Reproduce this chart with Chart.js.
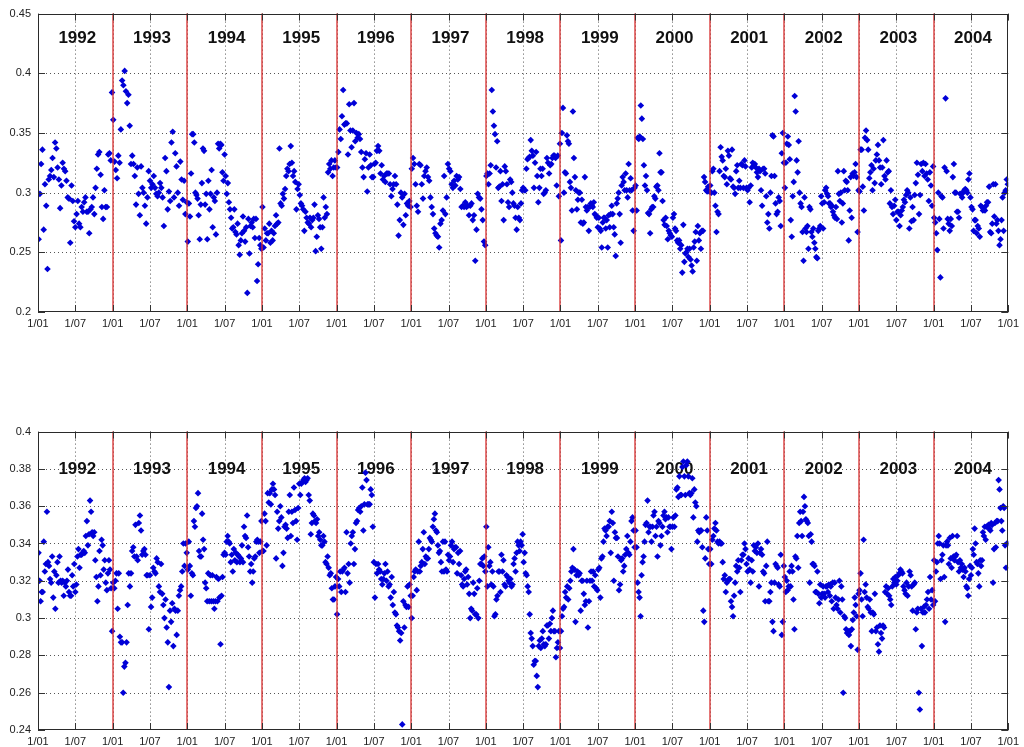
<!DOCTYPE html>
<html>
<head>
<meta charset="utf-8">
<script src="https://cdn.jsdelivr.net/npm/chart.js@4/dist/chart.umd.min.js"></script>
<style>
  html, body { margin: 0; padding: 0; background: #fff; overflow: hidden; }
  #wrap { position: relative; width: 1024px; height: 747px; }
  .panel { position: absolute; left: 0; width: 1024px; }
  #upperBox { top: 0; height: 340px; }
  #lowerBox { top: 418px; height: 329px; }
</style>
</head>
<body>
<div id="wrap">
  <div class="panel" id="upperBox"><canvas id="upper" width="1024" height="340"></canvas></div>
  <div class="panel" id="lowerBox"><canvas id="lower" width="1024" height="329"></canvas></div>
</div>
<script>
// ---- categories and tick labels ----
const yearLabels = ['1992','1993','1994','1995','1996','1997','1998','1999','2000','2001','2002','2003','2004'];
const xTickLabels = ['1/01', '1/07'];
const upperTicks = [0.2, 0.25, 0.3, 0.35, 0.4, 0.45];
const upperTickText = ['0.2', '0.25', '0.3', '0.35', '0.4', '0.45'];
const lowerTicks = [0.24, 0.26, 0.28, 0.3, 0.32, 0.34, 0.36, 0.38, 0.4];
const lowerTickText = ['0.24', '0.26', '0.28', '0.3', '0.32', '0.34', '0.36', '0.38', '0.4'];

// ---- upper panel: observations through each year, in time order ----
const upper1992 = [0.261, 0.299, 0.324, 0.336, 0.269, 0.307, 0.289, 0.236, 0.311, 0.314, 0.319, 0.329, 0.313, 0.342, 0.337, 0.321, 0.311, 0.287, 0.306, 0.325, 0.320, 0.318, 0.310, 0.296, 0.295, 0.258, 0.306, 0.293, 0.276, 0.271, 0.282, 0.293, 0.274, 0.271, 0.288, 0.284, 0.292, 0.296, 0.284, 0.284, 0.266, 0.286, 0.288, 0.296, 0.282, 0.304, 0.320, 0.332, 0.334, 0.315, 0.288, 0.278, 0.302, 0.288, 0.288, 0.332, 0.333, 0.327, 0.384];
const upper1993 = [0.361, 0.326, 0.319, 0.312, 0.331, 0.325, 0.353, 0.394, 0.390, 0.402, 0.385, 0.375, 0.382, 0.356, 0.324, 0.331, 0.324, 0.314, 0.290, 0.321, 0.299, 0.281, 0.322, 0.304, 0.300, 0.289, 0.274, 0.296, 0.318, 0.310, 0.304, 0.307, 0.314, 0.304, 0.299, 0.297, 0.300, 0.308, 0.304, 0.296, 0.272, 0.329, 0.318, 0.286, 0.301, 0.293, 0.342, 0.351, 0.296, 0.333, 0.322, 0.300, 0.289, 0.326, 0.311, 0.294, 0.310, 0.282, 0.292];
const upper1994 = [0.259, 0.291, 0.280, 0.316, 0.349, 0.349, 0.342, 0.300, 0.298, 0.295, 0.281, 0.261, 0.290, 0.308, 0.337, 0.335, 0.290, 0.299, 0.261, 0.310, 0.286, 0.299, 0.319, 0.271, 0.296, 0.293, 0.265, 0.300, 0.341, 0.337, 0.341, 0.340, 0.317, 0.310, 0.332, 0.314, 0.299, 0.308, 0.292, 0.286, 0.279, 0.270, 0.271, 0.286, 0.267, 0.265, 0.274, 0.256, 0.248, 0.260, 0.266, 0.280, 0.268, 0.259, 0.271, 0.216, 0.278, 0.249, 0.272, 0.275, 0.271, 0.278, 0.262, 0.278, 0.226, 0.240, 0.262, 0.256, 0.253];
const upper1995 = [0.288, 0.254, 0.270, 0.260, 0.266, 0.266, 0.274, 0.258, 0.268, 0.260, 0.266, 0.272, 0.281, 0.274, 0.275, 0.337, 0.291, 0.289, 0.299, 0.295, 0.303, 0.314, 0.320, 0.318, 0.324, 0.339, 0.325, 0.314, 0.318, 0.309, 0.286, 0.303, 0.307, 0.298, 0.291, 0.289, 0.286, 0.268, 0.284, 0.279, 0.275, 0.274, 0.279, 0.271, 0.277, 0.279, 0.290, 0.251, 0.263, 0.281, 0.278, 0.271, 0.253, 0.271, 0.296, 0.279, 0.288, 0.282, 0.317, 0.324, 0.320, 0.327, 0.314, 0.321, 0.327, 0.321];
const upper1996 = [0.321, 0.334, 0.353, 0.345, 0.364, 0.386, 0.357, 0.358, 0.358, 0.332, 0.374, 0.352, 0.338, 0.352, 0.375, 0.343, 0.350, 0.346, 0.349, 0.345, 0.334, 0.321, 0.313, 0.328, 0.333, 0.301, 0.321, 0.332, 0.323, 0.313, 0.313, 0.324, 0.325, 0.335, 0.339, 0.335, 0.316, 0.323, 0.311, 0.314, 0.309, 0.316, 0.316, 0.316, 0.307, 0.297, 0.303, 0.307, 0.314, 0.307, 0.290, 0.264, 0.277, 0.300, 0.296, 0.273, 0.299, 0.281, 0.291, 0.289, 0.293, 0.288];
const upper1997 = [0.320, 0.329, 0.324, 0.307, 0.289, 0.284, 0.324, 0.323, 0.307, 0.295, 0.314, 0.318, 0.321, 0.313, 0.310, 0.296, 0.288, 0.282, 0.270, 0.266, 0.264, 0.263, 0.254, 0.274, 0.277, 0.285, 0.314, 0.282, 0.296, 0.324, 0.320, 0.318, 0.307, 0.304, 0.310, 0.306, 0.314, 0.311, 0.313, 0.303, 0.288, 0.289, 0.288, 0.292, 0.288, 0.289, 0.281, 0.289, 0.291, 0.277, 0.281, 0.243, 0.269, 0.299, 0.296, 0.295, 0.286, 0.277, 0.259, 0.256];
const upper1998 = [0.314, 0.316, 0.307, 0.316, 0.323, 0.386, 0.368, 0.356, 0.349, 0.321, 0.343, 0.304, 0.305, 0.318, 0.293, 0.307, 0.277, 0.322, 0.318, 0.307, 0.292, 0.288, 0.311, 0.309, 0.300, 0.291, 0.289, 0.279, 0.269, 0.288, 0.279, 0.277, 0.291, 0.302, 0.304, 0.302, 0.302, 0.320, 0.328, 0.329, 0.330, 0.344, 0.335, 0.331, 0.304, 0.325, 0.334, 0.314, 0.292, 0.304, 0.320, 0.314, 0.320, 0.299, 0.300, 0.302, 0.329, 0.325, 0.316, 0.323, 0.324, 0.329, 0.331, 0.331, 0.329, 0.306, 0.331, 0.297, 0.341];
const upper1999 = [0.260, 0.350, 0.371, 0.300, 0.317, 0.316, 0.348, 0.343, 0.341, 0.309, 0.304, 0.285, 0.368, 0.329, 0.313, 0.302, 0.286, 0.294, 0.300, 0.300, 0.275, 0.294, 0.274, 0.275, 0.313, 0.288, 0.285, 0.288, 0.268, 0.288, 0.291, 0.289, 0.288, 0.292, 0.282, 0.281, 0.279, 0.271, 0.279, 0.270, 0.268, 0.254, 0.275, 0.279, 0.279, 0.270, 0.277, 0.254, 0.281, 0.271, 0.282, 0.289, 0.282, 0.271, 0.265, 0.247, 0.291, 0.295, 0.300, 0.282, 0.258, 0.306, 0.313, 0.309, 0.302, 0.316, 0.302, 0.296, 0.324, 0.302, 0.312, 0.302, 0.285, 0.268, 0.304];
const upper2000 = [0.306, 0.285, 0.346, 0.345, 0.347, 0.373, 0.362, 0.345, 0.323, 0.306, 0.314, 0.302, 0.283, 0.282, 0.266, 0.286, 0.288, 0.288, 0.297, 0.295, 0.305, 0.306, 0.302, 0.333, 0.317, 0.317, 0.293, 0.277, 0.273, 0.279, 0.272, 0.261, 0.268, 0.266, 0.264, 0.263, 0.279, 0.282, 0.270, 0.268, 0.260, 0.258, 0.260, 0.253, 0.256, 0.233, 0.273, 0.242, 0.249, 0.250, 0.253, 0.246, 0.253, 0.244, 0.239, 0.234, 0.254, 0.259, 0.267, 0.243, 0.272, 0.260, 0.266, 0.253, 0.268, 0.268, 0.313, 0.309, 0.302, 0.301, 0.305, 0.301];
const upper2001 = [0.306, 0.300, 0.318, 0.320, 0.300, 0.289, 0.267, 0.284, 0.282, 0.318, 0.338, 0.330, 0.327, 0.314, 0.313, 0.320, 0.307, 0.335, 0.331, 0.312, 0.311, 0.336, 0.305, 0.304, 0.299, 0.318, 0.323, 0.304, 0.310, 0.304, 0.324, 0.323, 0.304, 0.327, 0.322, 0.304, 0.302, 0.304, 0.292, 0.306, 0.321, 0.325, 0.323, 0.324, 0.321, 0.317, 0.313, 0.320, 0.318, 0.302, 0.289, 0.320, 0.320, 0.316, 0.297, 0.275, 0.282, 0.270, 0.300, 0.314, 0.348, 0.347, 0.314, 0.291, 0.282, 0.284, 0.296, 0.293, 0.272, 0.333, 0.350, 0.325];
const upper2002 = [0.304, 0.325, 0.341, 0.347, 0.340, 0.328, 0.277, 0.263, 0.297, 0.309, 0.381, 0.368, 0.327, 0.317, 0.343, 0.300, 0.291, 0.288, 0.267, 0.243, 0.296, 0.270, 0.267, 0.272, 0.253, 0.288, 0.286, 0.267, 0.263, 0.270, 0.258, 0.253, 0.246, 0.245, 0.268, 0.270, 0.272, 0.297, 0.291, 0.270, 0.292, 0.302, 0.304, 0.299, 0.297, 0.291, 0.291, 0.288, 0.289, 0.284, 0.281, 0.279, 0.288, 0.278, 0.318, 0.299, 0.293, 0.300, 0.275, 0.291, 0.318, 0.302, 0.310, 0.309, 0.302, 0.260, 0.285, 0.313, 0.279, 0.316, 0.314, 0.317, 0.324, 0.313, 0.267, 0.302];
const upper2003 = [0.301, 0.336, 0.336, 0.305, 0.285, 0.346, 0.352, 0.344, 0.336, 0.312, 0.317, 0.323, 0.302, 0.320, 0.308, 0.327, 0.332, 0.340, 0.327, 0.321, 0.307, 0.321, 0.344, 0.314, 0.311, 0.327, 0.317, 0.318, 0.291, 0.302, 0.288, 0.282, 0.289, 0.294, 0.277, 0.284, 0.284, 0.272, 0.281, 0.285, 0.288, 0.294, 0.292, 0.298, 0.302, 0.300, 0.270, 0.296, 0.276, 0.288, 0.277, 0.298, 0.308, 0.325, 0.315, 0.282, 0.298, 0.324, 0.318, 0.325, 0.314, 0.324, 0.316, 0.311, 0.293, 0.317, 0.306, 0.289, 0.322];
const upper2004 = [0.279, 0.275, 0.266, 0.252, 0.300, 0.278, 0.229, 0.297, 0.296, 0.270, 0.321, 0.379, 0.318, 0.278, 0.274, 0.268, 0.278, 0.272, 0.313, 0.324, 0.300, 0.300, 0.284, 0.284, 0.279, 0.299, 0.299, 0.296, 0.300, 0.302, 0.303, 0.302, 0.300, 0.311, 0.316, 0.296, 0.288, 0.286, 0.268, 0.277, 0.277, 0.266, 0.272, 0.270, 0.263, 0.289, 0.288, 0.285, 0.286, 0.285, 0.289, 0.292, 0.292, 0.305, 0.267, 0.266, 0.274, 0.307, 0.280, 0.307, 0.274, 0.277, 0.268, 0.256, 0.261, 0.277, 0.296, 0.268, 0.300, 0.302, 0.311, 0.307];

// ---- lower panel ----
const lower1992 = [0.335, 0.320, 0.309, 0.314, 0.314, 0.341, 0.325, 0.329, 0.357, 0.330, 0.328, 0.321, 0.319, 0.333, 0.311, 0.325, 0.305, 0.323, 0.330, 0.319, 0.333, 0.320, 0.319, 0.320, 0.312, 0.319, 0.317, 0.320, 0.326, 0.314, 0.312, 0.312, 0.323, 0.317, 0.329, 0.314, 0.318, 0.333, 0.337, 0.327, 0.334, 0.334, 0.335, 0.336, 0.335, 0.344, 0.352, 0.339, 0.345, 0.363, 0.357, 0.346, 0.344, 0.346, 0.331, 0.322, 0.309, 0.317, 0.336, 0.323, 0.342, 0.339, 0.326, 0.331, 0.319, 0.315, 0.324, 0.331, 0.326, 0.316, 0.293];
const lower1993 = [0.319, 0.316, 0.320, 0.324, 0.305, 0.324, 0.290, 0.287, 0.287, 0.260, 0.274, 0.276, 0.287, 0.307, 0.324, 0.317, 0.324, 0.336, 0.338, 0.333, 0.350, 0.333, 0.331, 0.351, 0.355, 0.347, 0.334, 0.336, 0.337, 0.334, 0.323, 0.323, 0.294, 0.323, 0.306, 0.311, 0.327, 0.325, 0.324, 0.332, 0.330, 0.317, 0.314, 0.329, 0.313, 0.307, 0.300, 0.310, 0.295, 0.287, 0.263, 0.304, 0.298, 0.308, 0.285, 0.305, 0.304, 0.291, 0.304, 0.312, 0.315, 0.317, 0.325, 0.340, 0.328, 0.340, 0.335];
const lower1994 = [0.326, 0.341, 0.328, 0.312, 0.324, 0.323, 0.352, 0.349, 0.359, 0.360, 0.367, 0.336, 0.333, 0.333, 0.356, 0.342, 0.337, 0.319, 0.316, 0.309, 0.324, 0.309, 0.323, 0.309, 0.323, 0.309, 0.305, 0.309, 0.322, 0.309, 0.321, 0.311, 0.286, 0.312, 0.322, 0.334, 0.335, 0.334, 0.341, 0.344, 0.341, 0.340, 0.330, 0.334, 0.325, 0.337, 0.331, 0.335, 0.330, 0.334, 0.333, 0.330, 0.332, 0.339, 0.330, 0.349, 0.344, 0.343, 0.355, 0.338, 0.333, 0.325, 0.329, 0.319, 0.325, 0.332, 0.333, 0.341, 0.342, 0.341, 0.335, 0.341, 0.352];
const lower1995 = [0.336, 0.336, 0.356, 0.352, 0.339, 0.367, 0.362, 0.367, 0.361, 0.369, 0.372, 0.369, 0.366, 0.332, 0.357, 0.348, 0.352, 0.360, 0.354, 0.328, 0.335, 0.349, 0.350, 0.348, 0.343, 0.357, 0.366, 0.344, 0.357, 0.351, 0.370, 0.358, 0.352, 0.342, 0.359, 0.372, 0.366, 0.372, 0.373, 0.374, 0.375, 0.373, 0.374, 0.375, 0.366, 0.363, 0.345, 0.351, 0.356, 0.355, 0.352, 0.351, 0.353, 0.344, 0.346, 0.342, 0.339, 0.339, 0.344, 0.341, 0.330, 0.329, 0.333, 0.327, 0.323, 0.324, 0.316, 0.310, 0.310, 0.317, 0.322];
const lower1996 = [0.302, 0.321, 0.317, 0.325, 0.314, 0.325, 0.326, 0.327, 0.314, 0.346, 0.324, 0.329, 0.319, 0.340, 0.344, 0.346, 0.329, 0.337, 0.351, 0.352, 0.358, 0.359, 0.357, 0.360, 0.370, 0.347, 0.361, 0.378, 0.374, 0.361, 0.361, 0.361, 0.369, 0.366, 0.349, 0.330, 0.311, 0.329, 0.324, 0.329, 0.326, 0.325, 0.321, 0.318, 0.321, 0.324, 0.329, 0.320, 0.325, 0.317, 0.318, 0.311, 0.322, 0.307, 0.314, 0.303, 0.302, 0.296, 0.295, 0.293, 0.288, 0.292, 0.243, 0.309, 0.295, 0.307, 0.306, 0.317, 0.306, 0.318, 0.312];
const lower1997 = [0.300, 0.312, 0.322, 0.325, 0.326, 0.315, 0.325, 0.341, 0.325, 0.328, 0.330, 0.337, 0.346, 0.329, 0.333, 0.332, 0.332, 0.337, 0.343, 0.342, 0.341, 0.349, 0.353, 0.356, 0.347, 0.346, 0.339, 0.335, 0.336, 0.330, 0.325, 0.341, 0.325, 0.341, 0.326, 0.325, 0.334, 0.331, 0.333, 0.339, 0.341, 0.330, 0.337, 0.338, 0.338, 0.324, 0.335, 0.329, 0.336, 0.323, 0.318, 0.317, 0.321, 0.325, 0.326, 0.318, 0.322, 0.313, 0.300, 0.305, 0.304, 0.319, 0.313, 0.302, 0.302, 0.316, 0.300, 0.320, 0.329, 0.329, 0.332, 0.328, 0.333, 0.325];
const lower1998 = [0.349, 0.317, 0.338, 0.328, 0.330, 0.318, 0.325, 0.317, 0.301, 0.302, 0.310, 0.312, 0.325, 0.325, 0.314, 0.334, 0.325, 0.331, 0.318, 0.317, 0.323, 0.322, 0.320, 0.319, 0.321, 0.317, 0.318, 0.329, 0.332, 0.325, 0.335, 0.341, 0.339, 0.336, 0.341, 0.339, 0.345, 0.330, 0.335, 0.324, 0.323, 0.317, 0.314, 0.302, 0.292, 0.289, 0.285, 0.275, 0.277, 0.277, 0.269, 0.263, 0.285, 0.288, 0.284, 0.289, 0.293, 0.286, 0.285, 0.286, 0.296, 0.296, 0.289, 0.297, 0.293, 0.300, 0.304, 0.293, 0.293, 0.279, 0.284, 0.287, 0.293, 0.284];
const lower1999 = [0.293, 0.301, 0.305, 0.306, 0.314, 0.311, 0.317, 0.310, 0.316, 0.320, 0.325, 0.327, 0.337, 0.326, 0.298, 0.323, 0.325, 0.323, 0.324, 0.304, 0.320, 0.320, 0.313, 0.307, 0.309, 0.320, 0.295, 0.309, 0.320, 0.325, 0.320, 0.325, 0.317, 0.323, 0.316, 0.315, 0.326, 0.327, 0.311, 0.332, 0.333, 0.341, 0.348, 0.347, 0.344, 0.349, 0.349, 0.352, 0.335, 0.357, 0.351, 0.320, 0.346, 0.343, 0.343, 0.333, 0.315, 0.318, 0.331, 0.332, 0.325, 0.328, 0.334, 0.337, 0.344, 0.335, 0.334, 0.341, 0.352, 0.354, 0.347, 0.338];
const lower2000 = [0.347, 0.338, 0.319, 0.314, 0.311, 0.301, 0.323, 0.330, 0.333, 0.341, 0.350, 0.351, 0.363, 0.346, 0.349, 0.349, 0.341, 0.349, 0.355, 0.357, 0.344, 0.349, 0.333, 0.352, 0.351, 0.339, 0.344, 0.349, 0.355, 0.357, 0.353, 0.354, 0.346, 0.354, 0.349, 0.349, 0.337, 0.349, 0.354, 0.349, 0.355, 0.369, 0.370, 0.365, 0.376, 0.366, 0.366, 0.381, 0.384, 0.376, 0.366, 0.382, 0.384, 0.376, 0.367, 0.366, 0.367, 0.375, 0.354, 0.369, 0.362, 0.360, 0.341, 0.347, 0.346, 0.347, 0.347, 0.338, 0.304, 0.298, 0.332, 0.354, 0.347, 0.337, 0.329];
const lower2001 = [0.337, 0.329, 0.342, 0.344, 0.348, 0.351, 0.347, 0.341, 0.340, 0.341, 0.340, 0.340, 0.330, 0.321, 0.323, 0.314, 0.319, 0.320, 0.321, 0.321, 0.309, 0.306, 0.301, 0.312, 0.319, 0.328, 0.325, 0.331, 0.327, 0.314, 0.331, 0.334, 0.334, 0.340, 0.337, 0.329, 0.325, 0.332, 0.326, 0.319, 0.331, 0.325, 0.339, 0.336, 0.338, 0.335, 0.340, 0.317, 0.335, 0.337, 0.334, 0.325, 0.324, 0.309, 0.328, 0.341, 0.309, 0.309, 0.314, 0.319, 0.298, 0.293, 0.319, 0.329, 0.328, 0.327, 0.318, 0.317, 0.334, 0.291, 0.298, 0.328];
const lower2002 = [0.322, 0.314, 0.320, 0.315, 0.317, 0.325, 0.317, 0.328, 0.325, 0.310, 0.294, 0.333, 0.332, 0.344, 0.327, 0.351, 0.357, 0.352, 0.344, 0.357, 0.365, 0.360, 0.353, 0.352, 0.351, 0.344, 0.319, 0.345, 0.341, 0.329, 0.329, 0.328, 0.314, 0.314, 0.325, 0.313, 0.308, 0.318, 0.311, 0.313, 0.317, 0.313, 0.311, 0.317, 0.317, 0.314, 0.318, 0.312, 0.317, 0.309, 0.319, 0.305, 0.319, 0.311, 0.307, 0.305, 0.310, 0.320, 0.303, 0.317, 0.310, 0.260, 0.301, 0.300, 0.294, 0.292, 0.293, 0.291, 0.293, 0.285, 0.294, 0.299, 0.303, 0.311, 0.307, 0.301, 0.283, 0.313];
const lower2003 = [0.315, 0.324, 0.310, 0.301, 0.342, 0.314, 0.318, 0.311, 0.306, 0.305, 0.310, 0.303, 0.293, 0.303, 0.302, 0.313, 0.293, 0.295, 0.286, 0.282, 0.296, 0.292, 0.289, 0.296, 0.295, 0.314, 0.317, 0.313, 0.316, 0.312, 0.310, 0.307, 0.317, 0.321, 0.319, 0.322, 0.318, 0.320, 0.323, 0.324, 0.326, 0.325, 0.324, 0.317, 0.315, 0.313, 0.319, 0.312, 0.317, 0.325, 0.323, 0.317, 0.304, 0.318, 0.319, 0.294, 0.303, 0.305, 0.260, 0.251, 0.305, 0.285, 0.303, 0.306, 0.303, 0.307, 0.310, 0.314, 0.305, 0.322, 0.310, 0.315, 0.307];
const lower2004 = [0.331, 0.309, 0.325, 0.330, 0.340, 0.344, 0.340, 0.321, 0.331, 0.334, 0.339, 0.322, 0.298, 0.339, 0.341, 0.339, 0.329, 0.343, 0.332, 0.327, 0.344, 0.333, 0.331, 0.333, 0.334, 0.344, 0.330, 0.325, 0.331, 0.327, 0.329, 0.326, 0.322, 0.327, 0.325, 0.317, 0.316, 0.312, 0.321, 0.328, 0.323, 0.327, 0.337, 0.334, 0.348, 0.340, 0.330, 0.329, 0.324, 0.317, 0.331, 0.328, 0.331, 0.346, 0.344, 0.349, 0.342, 0.349, 0.349, 0.350, 0.348, 0.347, 0.351, 0.350, 0.319, 0.337, 0.351, 0.338, 0.352, 0.352, 0.374, 0.369, 0.359, 0.352, 0.347, 0.360, 0.359, 0.339, 0.327, 0.340, 0.340];

const upperYears = [upper1992, upper1993, upper1994, upper1995, upper1996, upper1997, upper1998, upper1999, upper2000, upper2001, upper2002, upper2003, upper2004];
const lowerYears = [lower1992, lower1993, lower1994, lower1995, lower1996, lower1997, lower1998, lower1999, lower2000, lower2001, lower2002, lower2003, lower2004];

const firstYear = Number(yearLabels[0]);
const lastYear = Number(yearLabels[yearLabels.length - 1]) + 1;

// Spread each year's observations evenly through that year (x in fractional years).
function toPoints(byYear) {
  const pts = [];
  byYear.forEach((vals, k) => {
    vals.forEach((v, i) => pts.push({ x: firstYear + k + (i + 0.5) / vals.length, y: v }));
  });
  return pts;
}

// Half-year tick positions: 1/01 and 1/07 of every year.
const halfYearTicks = [];
for (let yr = firstYear; yr <= lastYear; yr++) {
  halfYearTicks.push(yr);
  if (yr < lastYear) halfYearTicks.push(yr + 0.5);
}

const FONT = '"Liberation Sans", Arial, Helvetica, sans-serif';
Chart.defaults.font.family = FONT;
Chart.defaults.font.size = 11;
Chart.defaults.color = '#222';

// Dotted grid, yearly separators, boxed axes with inward ticks, and year captions.
const framePlugin = {
  id: 'frame',
  beforeDatasetsDraw(chart, args, opts) {
    const { ctx, chartArea: a, scales: { x, y } } = chart;
    ctx.save();
    ctx.strokeStyle = 'rgba(30,30,30,0.75)';
    ctx.lineWidth = 1;
    ctx.setLineDash([1, 3]);
    opts.yTicks.forEach(v => {
      const py = Math.round(y.getPixelForValue(v)) + 0.5;
      if (py <= a.top + 1 || py >= a.bottom - 1) return;
      ctx.beginPath(); ctx.moveTo(a.left, py); ctx.lineTo(a.right, py); ctx.stroke();
    });
    halfYearTicks.forEach(v => {
      const px = Math.round(x.getPixelForValue(v)) + 0.5;
      if (px <= a.left + 1 || px >= a.right - 1) return;
      ctx.beginPath(); ctx.moveTo(px, a.top); ctx.lineTo(px, a.bottom); ctx.stroke();
    });
    ctx.setLineDash([]);
    ctx.fillStyle = '#111';
    ctx.font = 'bold 17px ' + FONT;
    ctx.textAlign = 'center';
    ctx.textBaseline = 'middle';
    const ly = y.getPixelForValue(opts.labelAt);
    yearLabels.forEach((lab, k) => {
      ctx.fillText(lab, x.getPixelForValue(firstYear + k + 0.5) + 2, ly);
    });
    ctx.restore();
  },
  afterDatasetsDraw(chart, args, opts) {
    const { ctx, chartArea: a, scales: { x, y } } = chart;
    ctx.save();
    // yearly separators
    ctx.strokeStyle = 'rgba(214,40,40,0.85)';
    ctx.lineWidth = 1.5;
    for (let yr = firstYear + 1; yr < lastYear; yr++) {
      const px = Math.round(x.getPixelForValue(yr));
      ctx.beginPath(); ctx.moveTo(px, a.top); ctx.lineTo(px, a.bottom); ctx.stroke();
    }
    // inward tick marks on all four sides
    ctx.strokeStyle = '#333';
    ctx.lineWidth = 1;
    const tl = 7;
    halfYearTicks.forEach(v => {
      const px = Math.round(x.getPixelForValue(v)) + 0.5;
      ctx.beginPath();
      ctx.moveTo(px, a.bottom); ctx.lineTo(px, a.bottom - tl);
      ctx.moveTo(px, a.top); ctx.lineTo(px, a.top + tl);
      ctx.stroke();
    });
    opts.yTicks.forEach(v => {
      const py = Math.round(y.getPixelForValue(v)) + 0.5;
      ctx.beginPath();
      ctx.moveTo(a.left, py); ctx.lineTo(a.left + tl, py);
      ctx.moveTo(a.right, py); ctx.lineTo(a.right - tl, py);
      ctx.stroke();
    });
    // axes box
    ctx.strokeStyle = '#2a2a2a';
    ctx.strokeRect(Math.round(a.left) + 0.5, Math.round(a.top) + 0.5, Math.round(a.width) - 1, Math.round(a.height) - 1);
    ctx.restore();
  }
};

function makePanel(canvasId, byYear, yTicks, yText, labelAt, xAxisHeight) {
  return new Chart(document.getElementById(canvasId), {
    type: 'scatter',
    data: {
      datasets: [{
        data: toPoints(byYear),
        pointStyle: 'rectRot',
        pointRadius: 3.3,
        pointBorderWidth: 0,
        backgroundColor: 'rgb(0,0,215)',
        borderColor: 'rgb(0,0,215)',
        showLine: false
      }]
    },
    options: {
      responsive: false,
      animation: false,
      events: [],
      layout: { padding: { top: 12, right: 12, left: 0, bottom: 0 } },
      plugins: {
        legend: { display: false },
        tooltip: { enabled: false },
        frame: { yTicks: yTicks, labelAt: labelAt }
      },
      scales: {
        x: {
          type: 'linear',
          min: firstYear,
          max: lastYear,
          grid: { display: false, drawTicks: false },
          border: { display: false },
          afterBuildTicks: s => { s.ticks = halfYearTicks.map(v => ({ value: v })); },
          afterFit: s => { s.height = xAxisHeight; },
          ticks: {
            autoSkip: false,
            maxRotation: 0,
            padding: 5,
            font: { size: 11 },
            color: '#222',
            callback: v => xTickLabels[Math.round((v - Math.floor(v)) * 2)]
          }
        },
        y: {
          min: yTicks[0],
          max: yTicks[yTicks.length - 1],
          grid: { display: false, drawTicks: false },
          border: { display: false },
          afterBuildTicks: s => { s.ticks = yTicks.map(v => ({ value: v })); },
          afterFit: s => { s.width = 38; },
          ticks: {
            padding: 7,
            font: { size: 11 },
            color: '#222',
            callback: (v, i) => yText[i]
          }
        }
      }
    },
    plugins: [framePlugin]
  });
}

makePanel('upper', upperYears, upperTicks, upperTickText, 0.429, 28);
makePanel('lower', lowerYears, lowerTicks, lowerTickText, 0.38, 17);
</script>
</body>
</html>
